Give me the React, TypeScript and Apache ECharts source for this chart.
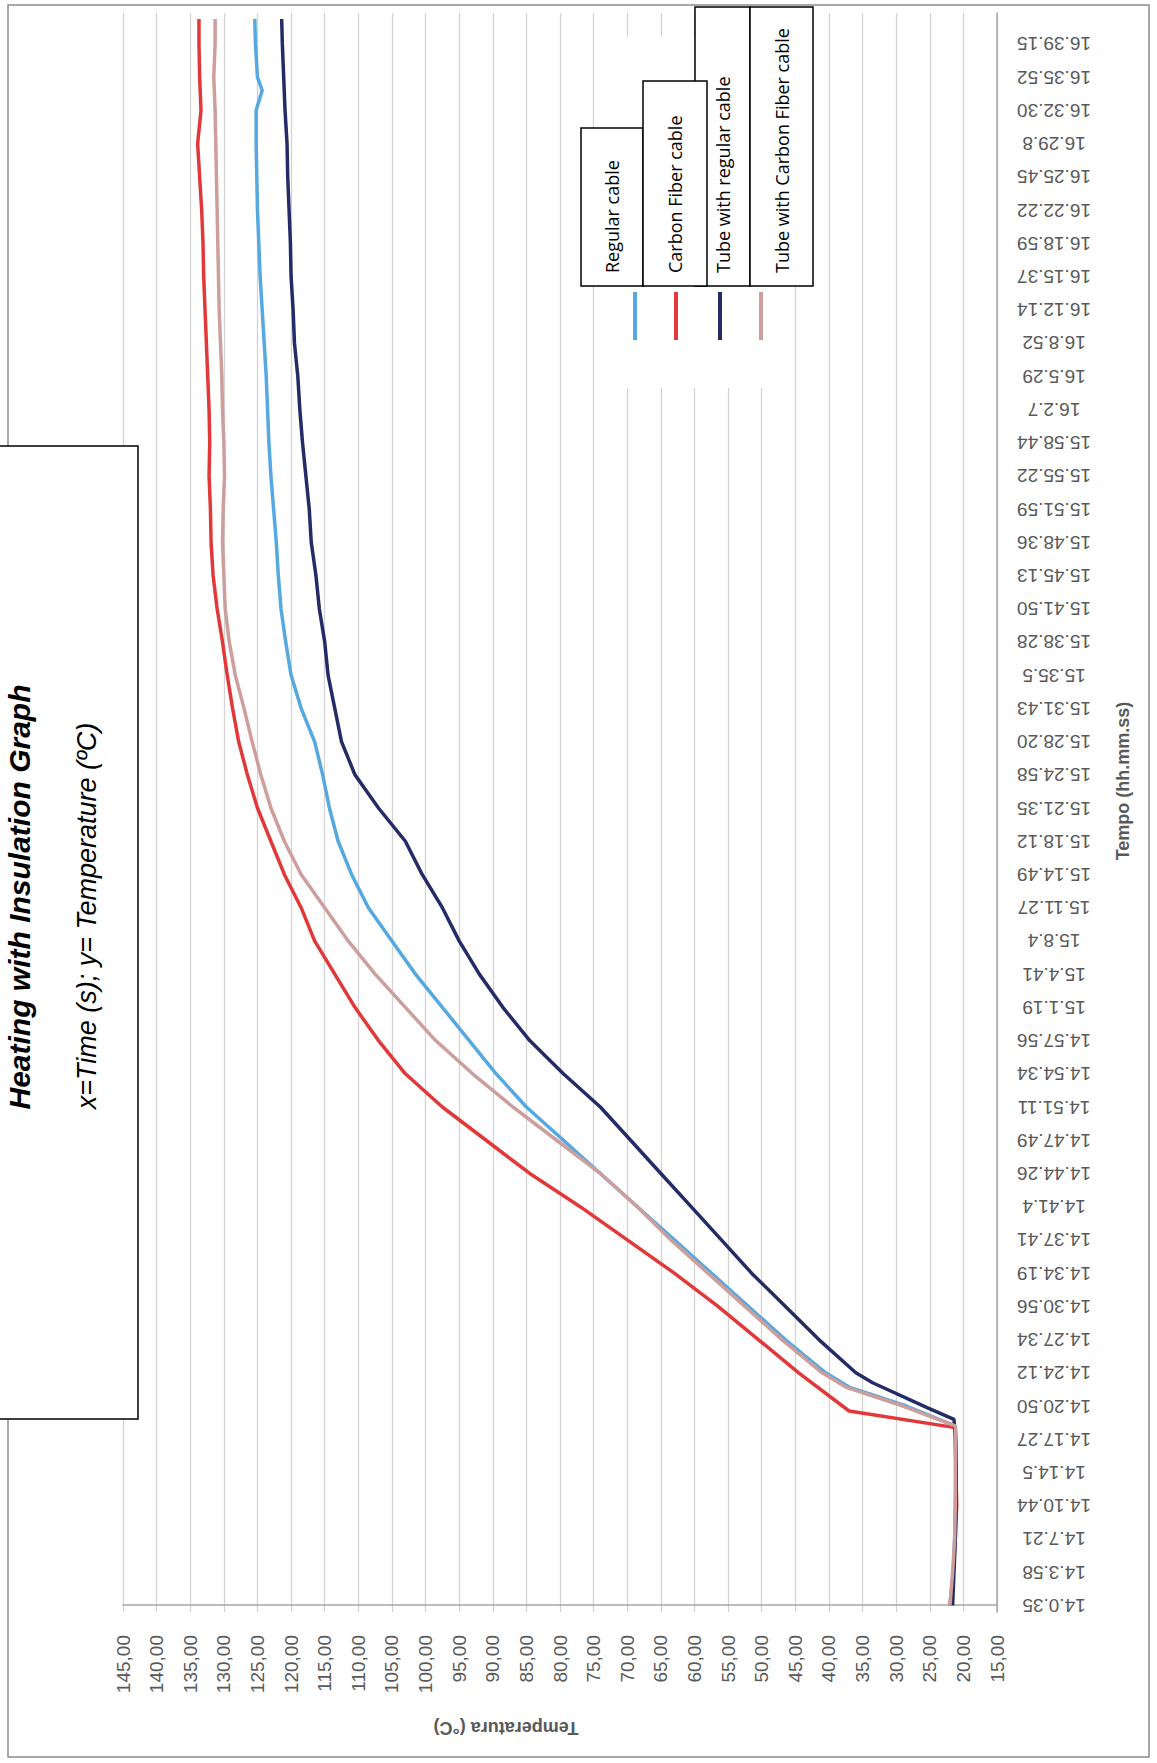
import React, { useEffect, useRef } from "react";
import * as echarts from "echarts";

// Time tick labels (hh.mm.ss)
const timeLabels = [
  "14.0.35", "14.3.58", "14.7.21", "14.10.44", "14.14.5", "14.17.27", "14.20.50", "14.24.12",
  "14.27.34", "14.30.56", "14.34.19", "14.37.41", "14.41.4", "14.44.26", "14.47.49", "14.51.11",
  "14.54.34", "14.57.56", "15.1.19", "15.4.41", "15.8.4", "15.11.27", "15.14.49", "15.18.12",
  "15.21.35", "15.24.58", "15.28.20", "15.31.43", "15.35.5", "15.38.28", "15.41.50", "15.45.13",
  "15.48.36", "15.51.59", "15.55.22", "15.58.44", "16.2.7", "16.5.29", "16.8.52", "16.12.14",
  "16.15.37", "16.18.59", "16.22.22", "16.25.45", "16.29.8", "16.32.30", "16.35.52", "16.39.15",
];

const seriesNames = ["Regular cable", "Carbon Fiber cable", "Tube with regular cable", "Tube with Carbon Fiber cable"];
const seriesColors = ["#55a9e0", "#e2383a", "#232c66", "#cc9e9c"];

// Position along the time axis, in units of time-label steps (0 = 14.0.35)
const regularPos = [0, 1, 2, 3, 4, 5, 5.4, 6, 6.57, 7, 8, 9, 10, 11, 12, 13, 14, 15, 16, 17, 18, 19, 20, 21, 22, 23, 24, 25, 26, 27, 28, 29, 30, 31, 32, 33, 34, 35, 36, 37, 38, 39, 40, 41, 42, 43, 44, 45, 45.6, 46, 47, 47.75];
const regularTemp = [21.8, 21.5, 21.3, 21.2, 21.1, 21.2, 21.2, 28.5, 37, 40.5, 46.5, 52, 57.5, 63, 68.5, 74, 79.5, 85, 89.5, 93.5, 97.5, 101.5, 105, 108.5, 111, 113, 114.3, 115.3, 116.5, 118.5, 120, 120.8, 121.5, 121.9, 122.2, 122.6, 123, 123.3, 123.5, 123.7, 124, 124.3, 124.6, 124.8, 125, 125.1, 125.2, 125.2, 124.3, 125, 125.3, 125.4];

const carbonPos = [0, 1, 2, 3, 4, 5, 5.35, 5.85, 7, 8, 9, 10, 11, 12, 13, 14, 15, 16, 17, 18, 19, 20, 21, 22, 23, 24, 25, 26, 27, 28, 29, 30, 31, 32, 33, 34, 35, 36, 37, 38, 39, 40, 41, 42, 43, 44, 45, 46, 47, 47.75];
const carbonTemp = [22.0, 21.5, 21.2, 21.0, 21.1, 21.1, 21.2, 37, 44.5, 50.5, 56.5, 63, 70, 77, 84.5, 91, 97.5, 103, 107, 110.5, 113.5, 116.5, 118.5, 121, 123, 125, 126.5, 127.8, 128.7, 129.5, 130.2, 131, 131.6, 131.9, 132, 132.2, 132.1, 132.2, 132.4, 132.6, 132.8, 133, 133.1, 133.3, 133.6, 133.9, 133.4, 133.6, 133.7, 133.7];

const tubeRegularPos = [0, 1, 2, 3, 4, 5, 5.6, 5.95, 6.7, 7, 8, 9, 10, 11, 12, 13, 14, 15, 16, 17, 18, 19, 20, 21, 22, 23, 24, 25, 26, 27, 28, 29, 30, 31, 32, 33, 34, 35, 36, 37, 38, 39, 40, 41, 42, 43, 44, 45, 46, 47, 47.75];
const tubeRegularTemp = [21.6, 21.4, 21.2, 21.1, 21.1, 21.2, 21.4, 25.4, 33.5, 36, 41.5, 46.5, 51.5, 56, 60.5, 65, 69.5, 74, 79.5, 84.5, 88.5, 92, 95, 97.5, 100.5, 103, 107, 110.5, 112.5, 113.5, 114.5, 115, 115.8, 116.3, 117, 117.3, 117.8, 118.3, 118.7, 119, 119.5, 119.7, 120, 120.1, 120.3, 120.5, 120.6, 120.9, 121.1, 121.3, 121.4];

const tubeCarbonPos = [0, 1, 2, 3, 4, 5, 5.4, 6, 6.57, 7, 8, 9, 10, 11, 12, 13, 14, 15, 16, 17, 18, 19, 20, 21, 22, 23, 24, 25, 26, 27, 28, 29, 30, 31, 32, 33, 34, 35, 36, 37, 38, 39, 40, 41, 42, 43, 44, 45, 46, 47, 47.75];
const tubeCarbonTemp = [22.0, 21.6, 21.3, 21.2, 21.2, 21.2, 21.2, 29, 37.5, 41, 47, 52.5, 58, 63.5, 68.5, 74, 80.5, 87, 93, 98.5, 103, 107.5, 111.5, 115, 118.5, 121, 123, 124.5, 125.8, 127, 128.3, 129.2, 129.8, 130, 130.2, 130.1, 129.9, 130, 130.2, 130.3, 130.5, 130.7, 130.8, 130.9, 131, 131.1, 131.2, 131.3, 131.5, 131.3, 131.3];

const titleText = "Heating with Insulation Graph";
const subtitleText = "x=Time (s); y= Temperature (ºC)";
const yAxisTitle = "Temperatura (°C)";
const xAxisTitle = "Tempo (hh.mm.ss)";

const zip = (a: number[], b: number[]) => a.map((v, i) => [v, b[i]]);

export default function App() {
  const ref = useRef<HTMLDivElement>(null);

  useEffect(() => {
    const chart = echarts.init(ref.current as HTMLDivElement, null, { renderer: "svg" });
    const labelFont = "'Liberation Sans', Arial, sans-serif";
    const posArrays = [regularPos, carbonPos, tubeRegularPos, tubeCarbonPos];
    const tempArrays = [regularTemp, carbonTemp, tubeRegularTemp, tubeCarbonTemp];

    const legendBoxes = [
      { name: seriesNames[2], x: 1477, y: 695, w: 279, h: 55 },
      { name: seriesNames[3], x: 1477, y: 750, w: 279, h: 63 },
      { name: seriesNames[0], x: 1477, y: 581, w: 158, h: 62 },
      { name: seriesNames[1], x: 1477, y: 643, w: 205, h: 64 },
    ];
    const markerY = [635, 676, 720, 761];

    const graphic: any[] = [
      { type: "rect", z: 90, shape: { x: 6, y: 8, width: 1752, height: 1141 }, style: { fill: "none", stroke: "#8c8c8c", lineWidth: 1.5 } },
      { type: "rect", z: 95, shape: { x: 344, y: -4, width: 973, height: 142 }, style: { fill: "#ffffff", stroke: "#000000", lineWidth: 1.5 } },
      { type: "text", z: 96, x: 866, y: 19, style: { text: titleText, fontSize: 30, fontWeight: "bold", fontStyle: "italic", fontFamily: labelFont, fill: "#000", align: "center", verticalAlign: "middle" } },
      { type: "text", z: 96, x: 847, y: 87, style: { text: subtitleText, fontSize: 27, fontStyle: "italic", fontFamily: labelFont, fill: "#000", align: "center", verticalAlign: "middle" } },
      { type: "rect", z: 95, shape: { x: 1375, y: 605, width: 351, height: 180 }, style: { fill: "#ffffff" } },
      { type: "text", z: 96, x: 35, y: 506, rotation: Math.PI / 2, style: { text: yAxisTitle, fontSize: 18, fontWeight: "bold", fontFamily: labelFont, fill: "#595959", align: "center", verticalAlign: "middle" } },
      { type: "text", z: 96, x: 982, y: 1123, style: { text: xAxisTitle, fontSize: 18, fontWeight: "bold", fontFamily: labelFont, fill: "#595959", align: "center", verticalAlign: "middle" } },
    ];
    legendBoxes.forEach((b, i) => {
      graphic.push({ type: "rect", z: 97 + i * 0.01, shape: { x: b.x, y: b.y, width: b.w, height: b.h }, style: { fill: "#ffffff", stroke: "#000000", lineWidth: 1.5 } });
      graphic.push({ type: "text", z: 97 + i * 0.01 + 0.005, x: b.x + 13, y: b.y + b.h / 2, style: { text: b.name, fontSize: 18, fontFamily: "'Open Sans', sans-serif", fill: "#000", align: "left", verticalAlign: "middle" } });
    });
    markerY.forEach((y, i) => {
      graphic.push({ type: "line", z: 98, shape: { x1: 1423, y1: y, x2: 1471, y2: y }, style: { stroke: seriesColors[i], lineWidth: 4 } });
    });

    chart.setOption({
      animation: false,
      backgroundColor: "#ffffff",
      grid: { left: 151, right: 13, top: 123, bottom: 160, containLabel: false, outerBoundsMode: "none" },
      xAxis: {
        type: "value",
        min: -0.2,
        max: 47.93,
        axisLine: { show: true, lineStyle: { color: "#a6a6a6", width: 1.5 } },
        axisTick: { show: false },
        splitLine: { show: false },
        axisLabel: {
          customValues: timeLabels.map((_, i) => i),
          formatter: (v: number) => timeLabels[Math.round(v)] ?? "",
          rotate: 90,
          align: "center",
          margin: 57,
          fontSize: 19,
          fontFamily: labelFont,
          color: "#595959",
        },
      },
      yAxis: {
        type: "value",
        min: 15,
        max: 145,
        interval: 5,
        axisLine: { show: true, lineStyle: { color: "#a6a6a6", width: 1.5 } },
        axisTick: { show: false },
        splitLine: { show: true, lineStyle: { color: "#d4d4d4", width: 1.3 } },
        axisLabel: {
          formatter: (v: number) => v.toFixed(2).replace(".", ","),
          margin: 23,
          fontSize: 19,
          fontFamily: labelFont,
          color: "#595959",
        },
      },
      series: seriesNames.map((name, i) => ({
        name,
        type: "line",
        showSymbol: false,
        symbol: "none",
        data: zip(posArrays[i], tempArrays[i]),
        lineStyle: { color: seriesColors[i], width: 3.5 },
        itemStyle: { color: seriesColors[i] },
        z: 3 + i,
      })),
      graphic,
    });
    return () => chart.dispose();
  }, []);

  return (
    <div style={{ position: "absolute", left: 0, top: 0, width: 1157, height: 1763, overflow: "hidden", background: "#fff" }}>
      <div
        ref={ref}
        style={{
          position: "absolute",
          left: 0,
          top: 0,
          width: 1763,
          height: 1157,
          transformOrigin: "0 0",
          transform: "translate(0px, 1763px) rotate(-90deg)",
        }}
      />
    </div>
  );
}
